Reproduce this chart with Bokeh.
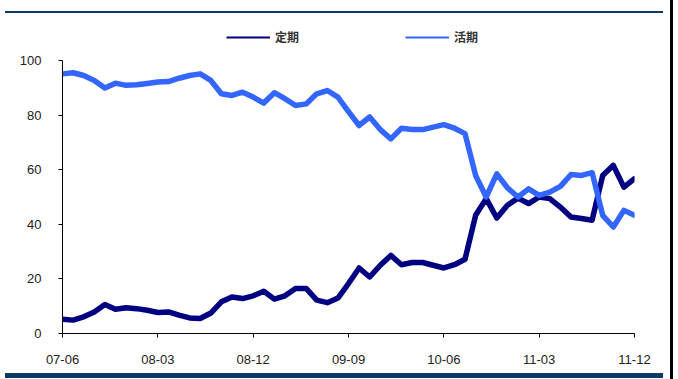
from bokeh.plotting import figure
from bokeh.models import (Range1d, FixedTicker, Legend, LegendItem)
from bokeh.embed import file_html
from bokeh.resources import INLINE

# ---- data (monthly, 2007-06 .. 2011-12) ----
tick_labels = ["07-06", "08-03", "08-12", "09-09", "10-06", "11-03", "11-12"]
tick_positions = [0, 9, 18, 27, 36, 45, 54]
y_ticks = [0, 20, 40, 60, 80, 100]
series_names = ["定期", "活期"]

dark_values = [5.2, 4.9, 6.1, 7.9, 10.6, 8.9, 9.4, 9.1, 8.5, 7.7,
               7.9, 6.7, 5.7, 5.5, 7.5, 11.6, 13.4, 12.8, 13.8, 15.5,
               12.6, 13.8, 16.5, 16.5, 12.2, 11.3, 13.0, 18.3, 24.0, 20.7,
               25.0, 28.6, 25.2, 26.0, 26.0, 25.0, 24.0, 25.2, 27.2, 43.3,
               49.4, 42.3, 47.0, 49.6, 47.6, 50.0, 49.4, 46.3, 42.7, 42.1,
               41.5, 57.9, 61.6, 53.6, 56.7]
light_values = [95.1, 95.5, 94.5, 92.7, 89.9, 91.7, 90.9, 91.1, 91.6, 92.1,
                92.3, 93.5, 94.5, 95.1, 92.7, 87.8, 87.2, 88.4, 86.6, 84.4,
                88.2, 86.0, 83.5, 84.1, 87.8, 89.0, 86.6, 81.3, 76.2, 79.3,
                74.7, 71.3, 75.2, 74.7, 74.7, 75.6, 76.5, 75.2, 73.2, 57.9,
                50.0, 58.5, 53.4, 50.0, 53.0, 50.6, 51.8, 53.9, 58.2, 57.9,
                58.9, 43.3, 39.0, 45.1, 43.3]
months = list(range(len(dark_values)))

NAVY = "#000080"
LIGHT = "#3366FF"

# frame reaches up to y=20 px so the legend sits inside it; axis line stops at 100
TOP_PX, BOTTOM_PX, AXIS_TOP_PX = 20, 333, 60
y_end = 100 * (BOTTOM_PX - TOP_PX) / (BOTTOM_PX - AXIS_TOP_PX)

p = figure(width=678, height=379, output_backend="svg", toolbar_location=None,
           x_range=Range1d(0, 54), y_range=Range1d(0, y_end),
           min_border_left=62, min_border_right=44, min_border_top=TOP_PX,
           min_border_bottom=379 - BOTTOM_PX)
p.outline_line_color = None
p.background_fill_color = None
p.border_fill_color = None
p.xgrid.visible = False
p.ygrid.visible = False

# thin copies (hidden under the thick lines) provide the thin legend samples
d1 = p.line(months, dark_values, line_color=NAVY, line_width=2)
d2 = p.line(months, light_values, line_color=LIGHT, line_width=2)

p.line(months, dark_values, line_color=NAVY, line_width=5.5, line_join="round", line_cap="round")
p.line(months, light_values, line_color=LIGHT, line_width=5.5, line_join="round", line_cap="round")

# axes
for ax in (p.xaxis[0], p.yaxis[0]):
    ax.axis_line_color = "black"
    ax.axis_line_width = 1
    ax.major_tick_line_color = "black"
    ax.major_tick_in = 0
    ax.major_tick_out = 4
    ax.minor_tick_line_color = None
    ax.major_label_text_font = "Liberation Sans"
    ax.major_label_text_font_size = "13px"
    ax.major_label_text_color = "#222222"

p.xaxis.ticker = FixedTicker(ticks=tick_positions)
p.xaxis.major_label_overrides = {pos: lab for pos, lab in zip(tick_positions, tick_labels)}
p.xaxis.major_label_standoff = 17
p.yaxis.ticker = FixedTicker(ticks=y_ticks)
p.yaxis.bounds = (0, 100)
p.yaxis.major_label_standoff = 17

legend = Legend(items=[LegendItem(label=series_names[0], renderers=[d1]),
                       LegendItem(label=series_names[1], renderers=[d2])],
                orientation="horizontal", location=(164, 288),
                glyph_width=44, glyph_height=14, label_standoff=5, spacing=106,
                padding=0, margin=0, border_line_color=None, background_fill_alpha=0,
                label_text_font="Noto Sans CJK SC", label_text_font_size="12px",
                label_text_color="#333333", label_text_font_style="bold")
p.add_layout(legend)

# page decorations: top rule, bottom band and right edge line (behind transparent canvas)
p.styles = {"background":
            "linear-gradient(#0B3A68, #0B3A68) 5px 11px / 658px 2px no-repeat, "
            "linear-gradient(#0B3A68, #0B3A68) 5px 373px / 658px 5px no-repeat, "
            "linear-gradient(#000000, #000000) 670px 0px / 3px 379px no-repeat, "
            "#ffffff"}

open("out.html", "w").write(file_html(p, INLINE))
